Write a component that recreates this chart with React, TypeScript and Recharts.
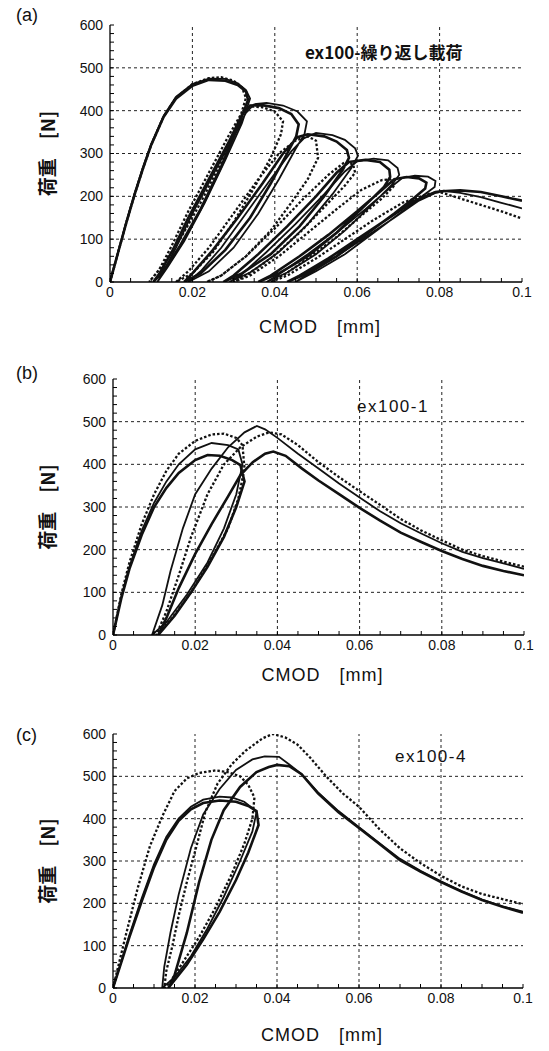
import React from 'react';
import { LineChart, Line, XAxis, YAxis, ReferenceLine } from 'recharts';

type Pt = [number, number];

const xMajor = [0, 0.02, 0.04, 0.06, 0.08, 0.1];
const xTickLabels = ['0', '0.02', '0.04', '0.06', '0.08', '0.1'];
const xMinor = [
  0, 0.005, 0.01, 0.015, 0.02, 0.025, 0.03, 0.035, 0.04, 0.045, 0.05,
  0.055, 0.06, 0.065, 0.07, 0.075, 0.08, 0.085, 0.09, 0.095, 0.1,
];
const yMajor = [0, 100, 200, 300, 400, 500, 600];
const yTickLabels = ['0', '100', '200', '300', '400', '500', '600'];
const yMinor = [
  0, 20, 40, 60, 80, 100, 120, 140, 160, 180, 200, 220, 240, 260, 280, 300,
  320, 340, 360, 380, 400, 420, 440, 460, 480, 500, 520, 540, 560, 580, 600,
];

// (a) ex100-繰り返し載荷  [CMOD mm, load N]
const aSolid1: Pt[] = [
  [0, 0], [0.002, 70], [0.004, 140], [0.006, 205], [0.008, 265], [0.01, 320], [0.013, 385], [0.016, 428],
  [0.02, 458], [0.024, 472], [0.028, 470], [0.031, 460], [0.033, 445], [0.0335, 425],
  [0.031, 360], [0.027, 270], [0.022, 170], [0.017, 85], [0.013, 25], [0.0105, 0],
  [0.012, 20], [0.015, 70], [0.019, 150], [0.024, 240], [0.029, 330], [0.032, 390], [0.034, 412],
  [0.037, 413], [0.041, 406], [0.044, 392], [0.0458, 368], [0.0452, 340],
  [0.043, 300], [0.039, 230], [0.034, 150], [0.028, 75], [0.022, 20], [0.018, 0],
  [0.02, 20], [0.025, 75], [0.031, 150], [0.037, 230], [0.042, 300], [0.0455, 338],
  [0.048, 345], [0.052, 340], [0.055, 328], [0.0575, 308], [0.058, 290], [0.0565, 262],
  [0.052, 200], [0.046, 130], [0.039, 65], [0.032, 20], [0.0275, 0],
  [0.03, 15], [0.036, 65], [0.043, 130], [0.05, 200], [0.055, 255], [0.058, 280],
  [0.062, 285], [0.0655, 280], [0.0678, 262], [0.068, 245], [0.0665, 222],
  [0.061, 170], [0.055, 115], [0.048, 60], [0.041, 20], [0.036, 0],
  [0.039, 15], [0.046, 60], [0.053, 110], [0.06, 165], [0.066, 215], [0.069, 240],
  [0.072, 245], [0.075, 242], [0.0768, 232], [0.0765, 218], [0.074, 198],
  [0.069, 160], [0.062, 110], [0.055, 60], [0.048, 20], [0.043, 0],
  [0.046, 15], [0.053, 55], [0.06, 100], [0.067, 145], [0.074, 190], [0.079, 210],
  [0.0805, 212], [0.085, 214], [0.09, 210], [0.095, 200], [0.1, 190],
];
const aSolid2: Pt[] = [
  [0, 0], [0.002, 72], [0.004, 142], [0.006, 208], [0.008, 268], [0.01, 322], [0.013, 388], [0.016, 432],
  [0.02, 462], [0.024, 475], [0.028, 474], [0.031, 464], [0.033, 448], [0.034, 428],
  [0.032, 370], [0.028, 285], [0.023, 185], [0.018, 95], [0.014, 35], [0.0115, 0],
  [0.013, 25], [0.016, 80], [0.02, 160], [0.025, 250], [0.03, 340], [0.033, 395], [0.035, 415],
  [0.038, 418], [0.042, 412], [0.0455, 398], [0.0478, 375], [0.0472, 345],
  [0.045, 310], [0.041, 240], [0.036, 160], [0.03, 80], [0.024, 25], [0.019, 0],
  [0.022, 25], [0.027, 80], [0.033, 160], [0.039, 240], [0.044, 305], [0.047, 335],
  [0.05, 348], [0.054, 343], [0.057, 332], [0.0595, 312], [0.0602, 295], [0.0585, 265],
  [0.054, 205], [0.048, 135], [0.041, 70], [0.034, 22], [0.029, 0],
  [0.032, 18], [0.038, 70], [0.045, 135], [0.052, 205], [0.057, 258], [0.06, 282],
  [0.064, 288], [0.0675, 284], [0.0698, 266], [0.0702, 250], [0.0685, 228],
  [0.063, 175], [0.057, 120], [0.05, 65], [0.043, 22], [0.038, 0],
  [0.041, 18], [0.048, 65], [0.055, 115], [0.062, 170], [0.068, 220], [0.071, 243],
  [0.074, 248], [0.0772, 246], [0.079, 236], [0.0788, 222], [0.076, 202],
  [0.071, 165], [0.064, 115], [0.057, 65], [0.05, 25], [0.045, 0],
  [0.048, 18], [0.055, 60], [0.062, 105], [0.069, 150], [0.075, 190], [0.0795, 210],
  [0.081, 213], [0.085, 208], [0.09, 198], [0.095, 185], [0.1, 172],
];
const aDotted: Pt[] = [
  [0, 0], [0.002, 70], [0.004, 140], [0.006, 205], [0.008, 265], [0.01, 320], [0.013, 386], [0.016, 430],
  [0.02, 462], [0.024, 476], [0.027, 478], [0.03, 470], [0.032, 455], [0.033, 430],
  [0.031, 365], [0.027, 280], [0.022, 185], [0.017, 100], [0.0125, 35], [0.0095, 0],
  [0.012, 30], [0.015, 85], [0.019, 165], [0.024, 255], [0.029, 345], [0.032, 395], [0.034, 410],
  [0.037, 408], [0.04, 398], [0.042, 375], [0.0415, 345],
  [0.039, 290], [0.035, 220], [0.03, 140], [0.025, 70], [0.02, 20], [0.016, 0],
  [0.019, 25], [0.024, 80], [0.03, 160], [0.036, 240], [0.041, 300], [0.045, 330],
  [0.048, 340], [0.05, 330], [0.0505, 290],
  [0.048, 240], [0.044, 185], [0.039, 120], [0.033, 60], [0.027, 15], [0.0235, 0],
  [0.027, 15], [0.033, 60], [0.04, 125], [0.047, 195], [0.053, 250], [0.057, 280],
  [0.059, 275], [0.0595, 255],
  [0.057, 225], [0.052, 175], [0.046, 115], [0.039, 55], [0.033, 15], [0.03, 0],
  [0.034, 15], [0.041, 60], [0.048, 115], [0.055, 170], [0.061, 215], [0.066, 238],
  [0.068, 240], [0.069, 225],
  [0.066, 195], [0.061, 155], [0.055, 105], [0.048, 55], [0.042, 15], [0.039, 0],
  [0.043, 15], [0.05, 55], [0.057, 100], [0.064, 145], [0.071, 185], [0.077, 205],
  [0.08, 210], [0.085, 195], [0.09, 180], [0.095, 165], [0.1, 148],
];

// (b) ex100-1
const bThick: Pt[] = [
  [0, 0], [0.002, 85], [0.004, 155], [0.007, 235], [0.01, 300], [0.013, 345], [0.016, 380], [0.02, 410],
  [0.023, 422], [0.026, 420], [0.029, 410], [0.031, 398],
  [0.032, 360], [0.03, 300], [0.027, 230], [0.023, 160], [0.019, 100], [0.015, 45], [0.011, 0],
  [0.013, 40], [0.016, 110], [0.02, 190], [0.024, 260], [0.028, 325], [0.031, 375], [0.034, 405],
  [0.037, 425], [0.039, 430],
  [0.042, 420], [0.046, 390], [0.05, 362], [0.055, 330], [0.06, 298], [0.065, 268], [0.07, 240],
  [0.075, 218], [0.08, 197], [0.085, 178], [0.09, 162], [0.095, 150], [0.1, 140],
];
const bThin: Pt[] = [
  [0, 0], [0.002, 90], [0.004, 160], [0.007, 245], [0.01, 310], [0.013, 360], [0.016, 400], [0.02, 435],
  [0.024, 450], [0.028, 445], [0.0305, 435],
  [0.0315, 400], [0.03, 330], [0.027, 250], [0.023, 170], [0.018, 95], [0.013, 30], [0.0095, 0],
  [0.012, 70], [0.014, 150], [0.017, 250], [0.02, 330], [0.024, 390], [0.028, 440], [0.032, 475],
  [0.035, 490],
  [0.037, 482], [0.04, 462], [0.045, 425], [0.05, 390], [0.055, 355], [0.06, 322], [0.065, 290],
  [0.07, 262], [0.075, 238], [0.08, 215], [0.085, 195], [0.09, 180], [0.095, 168], [0.1, 155],
];
const bDotted: Pt[] = [
  [0, 0], [0.002, 95], [0.004, 170], [0.007, 260], [0.01, 330], [0.013, 385], [0.016, 425], [0.02, 455],
  [0.024, 470], [0.027, 472], [0.03, 462], [0.0315, 445],
  [0.032, 390], [0.0305, 320], [0.028, 250], [0.024, 180], [0.019, 100], [0.014, 35], [0.0105, 0],
  [0.013, 55], [0.016, 140], [0.019, 230], [0.023, 330], [0.027, 400], [0.031, 440], [0.035, 465],
  [0.038, 475],
  [0.041, 470], [0.045, 445], [0.05, 405], [0.055, 370], [0.06, 337], [0.065, 305], [0.07, 272],
  [0.075, 245], [0.08, 222], [0.085, 200], [0.09, 185], [0.095, 172], [0.1, 160],
];

// (c) ex100-4
const cThick: Pt[] = [
  [0, 0], [0.002, 60], [0.004, 120], [0.007, 205], [0.01, 285], [0.013, 350], [0.016, 395], [0.019, 422],
  [0.022, 437], [0.026, 443], [0.03, 440], [0.033, 430], [0.035, 418], [0.0355, 385],
  [0.033, 320], [0.03, 255], [0.026, 180], [0.022, 115], [0.018, 55], [0.0135, 0],
  [0.015, 30], [0.018, 130], [0.021, 250], [0.024, 350], [0.027, 420], [0.031, 475], [0.035, 510],
  [0.038, 522], [0.04, 527], [0.043, 524],
  [0.046, 505], [0.05, 460], [0.055, 415], [0.06, 378], [0.065, 340], [0.07, 302], [0.075, 275],
  [0.08, 250], [0.085, 228], [0.09, 208], [0.095, 192], [0.1, 178],
];
const cThin: Pt[] = [
  [0, 0], [0.002, 62], [0.004, 125], [0.007, 212], [0.01, 292], [0.013, 357], [0.016, 400], [0.019, 428],
  [0.022, 445], [0.026, 452], [0.029, 450], [0.032, 440], [0.034, 425], [0.035, 415],
  [0.034, 370], [0.031, 300], [0.027, 215], [0.023, 140], [0.019, 75], [0.015, 25], [0.012, 0],
  [0.0125, 50], [0.014, 130], [0.016, 220], [0.019, 330], [0.022, 410], [0.026, 470], [0.03, 515],
  [0.034, 540], [0.037, 547], [0.0405, 546], [0.043, 528],
  [0.046, 505], [0.05, 462], [0.055, 418], [0.06, 380], [0.065, 342], [0.07, 305], [0.075, 277],
  [0.08, 252], [0.085, 229], [0.09, 209], [0.095, 193], [0.1, 180],
];
const cDotted: Pt[] = [
  [0, 0], [0.001, 40], [0.003, 120], [0.006, 235], [0.009, 335], [0.012, 405], [0.015, 465], [0.018, 495],
  [0.021, 508], [0.025, 514], [0.028, 510], [0.031, 500], [0.033, 480], [0.0345, 450], [0.034, 400],
  [0.032, 340], [0.029, 270], [0.025, 190], [0.021, 120], [0.017, 60], [0.014, 15], [0.0125, 0],
  [0.013, 40], [0.0145, 100], [0.016, 170], [0.018, 250], [0.0205, 340], [0.0225, 415], [0.0255, 483],
  [0.029, 529], [0.0323, 560], [0.0365, 590], [0.039, 600],
  [0.042, 592], [0.045, 575], [0.048, 545], [0.052, 500], [0.056, 460], [0.06, 428], [0.065, 375],
  [0.07, 330], [0.075, 295], [0.08, 265], [0.085, 240], [0.09, 222], [0.095, 210], [0.1, 198],
];

type Kind = 'thick' | 'thin' | 'dot';
type Series = { name: string; kind: Kind; pts: Pt[] };

const toXY = (pts: Pt[]) => pts.map(([x, y]) => ({ x, y }));

const lineStyle = (kind: Kind) => {
  if (kind === 'dot') return { strokeWidth: 2.3, strokeDasharray: '2.5 2' };
  if (kind === 'thin') return { strokeWidth: 1.8 };
  return { strokeWidth: 2.6 };
};

const xFmt = (v: number) => {
  const i = xMajor.findIndex((m) => Math.abs(m - v) < 1e-9);
  return i >= 0 ? xTickLabels[i] : '';
};
const yFmt = (v: number) => {
  const i = yMajor.findIndex((m) => Math.abs(m - v) < 1e-9);
  return i >= 0 ? yTickLabels[i] : '';
};

type PanelProps = {
  top: number;
  height: number;
  margin: { top: number; right: number; left: number; bottom: number };
  yAxisWidth: number;
  xAxisHeight: number;
  xLabelDy: number;
  series: Series[];
};

const Panel: React.FC<PanelProps> = ({ top, height, margin, yAxisWidth, xAxisHeight, xLabelDy, series }) => (
  <div style={{ position: 'absolute', left: 0, top }}>
    <LineChart width={549} height={height} margin={margin}>
      {xMajor.slice(1, -1).map((v) => (
        <ReferenceLine key={'gx' + v} x={v} stroke='#222' strokeDasharray='3 3' strokeWidth={1} />
      ))}
      {yMajor.slice(1, -1).map((v) => (
        <ReferenceLine key={'gy' + v} y={v} stroke='#222' strokeDasharray='3 3' strokeWidth={1} />
      ))}
      <XAxis
        dataKey='x'
        type='number'
        domain={[0, 0.1]}
        ticks={xMinor}
        interval={0}
        allowDataOverflow
        tickFormatter={xFmt}
        tickSize={-4}
        tickMargin={9}
        height={xAxisHeight}
        axisLine={{ stroke: '#000', strokeWidth: 1.3 }}
        tickLine={{ stroke: '#000', strokeWidth: 1 }}
        tick={{ fontSize: 14, fill: '#111', fontFamily: 'Liberation Sans, Arial, sans-serif' }}
        label={{
          content: ({ viewBox }: any) => (
            <text
              x={viewBox.x + viewBox.width / 2 + 4}
              y={viewBox.y + xLabelDy}
              textAnchor='middle'
              dominantBaseline='central'
              fontSize={18}
              letterSpacing={1}
              fill='#111'
              fontFamily='Liberation Sans, Arial, sans-serif'
            >
              {'CMOD\u3000[mm]'}
            </text>
          ),
        }}
      />
      <XAxis
        xAxisId='top'
        orientation='top'
        type='number'
        domain={[0, 0.1]}
        ticks={xMinor}
        interval={0}
        tick={false}
        tickSize={-4}
        height={0}
        axisLine={{ stroke: '#000', strokeWidth: 1.3 }}
        tickLine={{ stroke: '#000', strokeWidth: 1 }}
      />
      <YAxis
        type='number'
        domain={[0, 600]}
        ticks={yMinor}
        interval={0}
        allowDataOverflow
        tickFormatter={yFmt}
        tickSize={-4}
        tickMargin={11}
        width={yAxisWidth}
        axisLine={{ stroke: '#000', strokeWidth: 1.3 }}
        tickLine={{ stroke: '#000', strokeWidth: 1 }}
        tick={{ fontSize: 14, fill: '#111', fontFamily: 'Liberation Sans, Arial, sans-serif' }}
        label={{
          content: ({ viewBox }: any) => {
            const cx = 46;
            const cy = viewBox.y + viewBox.height / 2;
            return (
              <text
                x={cx}
                y={cy}
                textAnchor='middle'
                dominantBaseline='central'
                fontSize={19}
                fontWeight={700}
                fill='#111'
                fontFamily='Noto Sans CJK JP, sans-serif'
                transform={`rotate(-90 ${cx} ${cy})`}
              >
                {'荷重\u3000[N]'}
              </text>
            );
          },
        }}
      />
      <YAxis
        yAxisId='right'
        orientation='right'
        type='number'
        domain={[0, 600]}
        ticks={yMinor}
        interval={0}
        tick={false}
        tickSize={-4}
        width={0}
        axisLine={{ stroke: '#000', strokeWidth: 1.3 }}
        tickLine={{ stroke: '#000', strokeWidth: 1 }}
      />
      {series.map((s) => (
        <Line
          key={s.name}
          data={toXY(s.pts)}
          dataKey='y'
          type='linear'
          stroke='#111'
          {...lineStyle(s.kind)}
          dot={false}
          activeDot={false}
          isAnimationActive={false}
        />
      ))}
    </LineChart>
  </div>
);

const textBase: React.CSSProperties = {
  position: 'absolute',
  lineHeight: 1,
  color: '#111',
  whiteSpace: 'nowrap',
};

export default function App() {
  return (
    <div
      style={{
        position: 'absolute',
        left: 0,
        top: 0,
        width: 549,
        height: 1051,
        background: '#fff',
        fontFamily: 'Liberation Sans, Arial, sans-serif',
        overflow: 'hidden',
      }}
    >
      <Panel
        top={0}
        height={340}
        margin={{ top: 25, right: 27, left: 0, bottom: 0 }}
        yAxisWidth={110}
        xAxisHeight={58}
        xLabelDy={45}
        series={[
          { name: 'aDotted', kind: 'dot', pts: aDotted },
          { name: 'aSolid2', kind: 'thin', pts: aSolid2 },
          { name: 'aSolid1', kind: 'thick', pts: aSolid1 },
        ]}
      />
      <Panel
        top={350}
        height={350}
        margin={{ top: 29, right: 25, left: 0, bottom: 0 }}
        yAxisWidth={113}
        xAxisHeight={65}
        xLabelDy={40}
        series={[
          { name: 'bDotted', kind: 'dot', pts: bDotted },
          { name: 'bThin', kind: 'thin', pts: bThin },
          { name: 'bThick', kind: 'thick', pts: bThick },
        ]}
      />
      <Panel
        top={700}
        height={351}
        margin={{ top: 34, right: 26, left: 0, bottom: 0 }}
        yAxisWidth={113}
        xAxisHeight={63}
        xLabelDy={47}
        series={[
          { name: 'cDotted', kind: 'dot', pts: cDotted },
          { name: 'cThin', kind: 'thin', pts: cThin },
          { name: 'cThick', kind: 'thick', pts: cThick },
        ]}
      />
      <div style={{ ...textBase, left: 16, top: 6, fontSize: 18 }}>(a)</div>
      <div style={{ ...textBase, left: 16, top: 364, fontSize: 18 }}>(b)</div>
      <div style={{ ...textBase, left: 16, top: 726, fontSize: 18 }}>(c)</div>
      <div
        style={{
          ...textBase,
          left: 305,
          top: 43,
          fontSize: 17,
          fontWeight: 700,
          fontFamily: 'Noto Sans CJK JP, sans-serif',
        }}
      >
        ex100-繰り返し載荷
      </div>
      <div style={{ ...textBase, left: 357, top: 398, fontSize: 17, letterSpacing: 1.5 }}>ex100-1</div>
      <div style={{ ...textBase, left: 395, top: 748, fontSize: 17, letterSpacing: 1.5 }}>ex100-4</div>
    </div>
  );
}
